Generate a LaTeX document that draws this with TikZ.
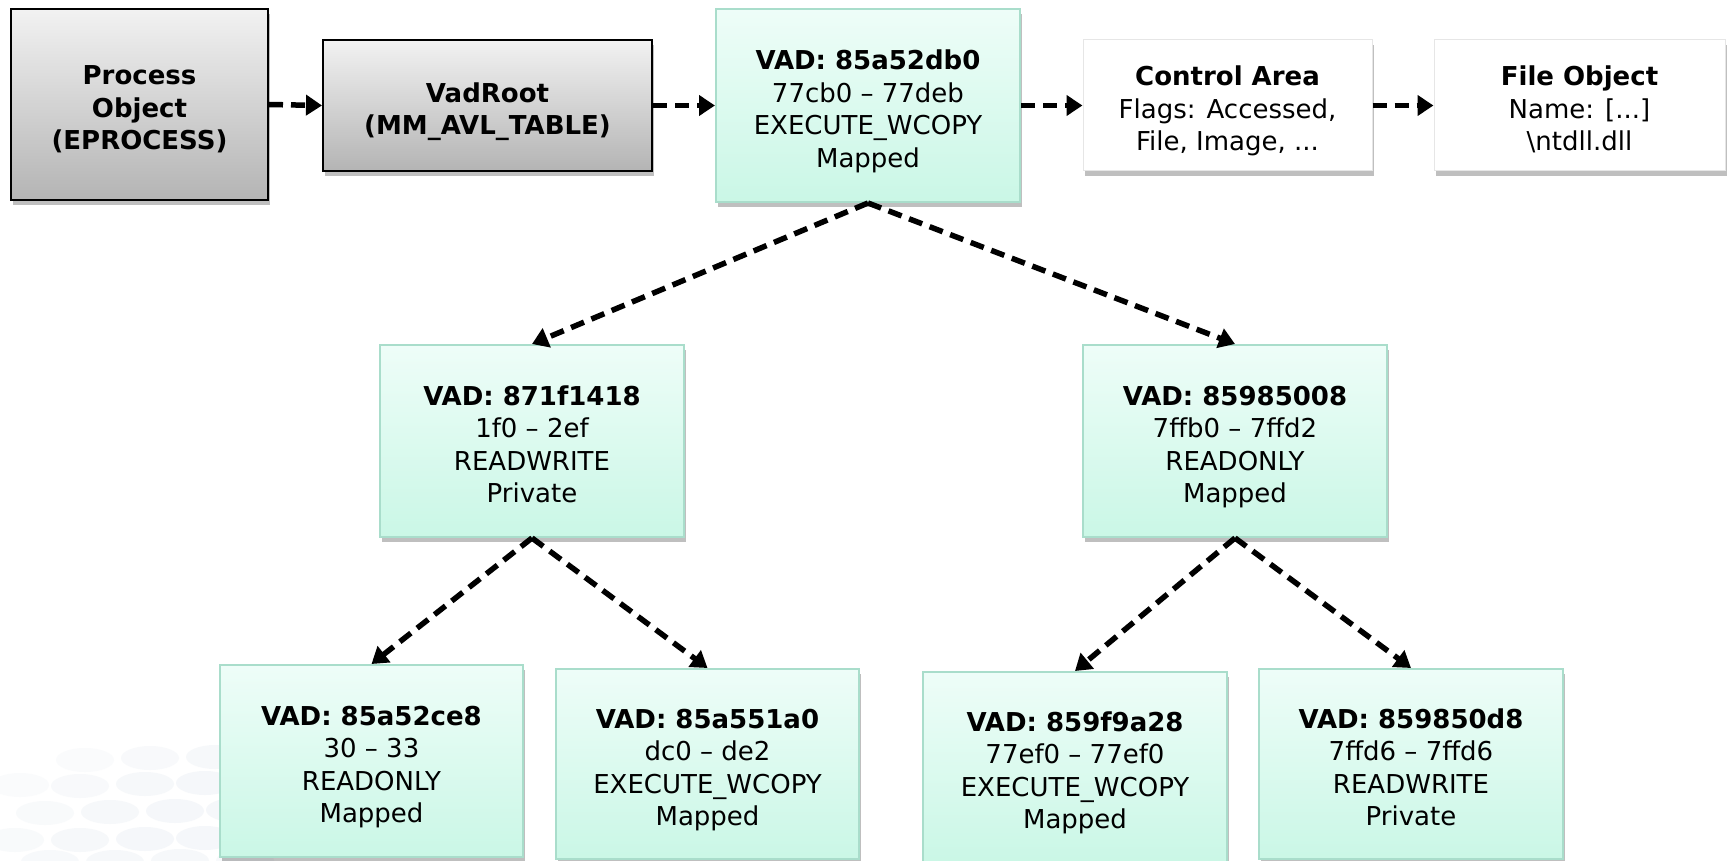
\documentclass[tikz,border=0pt]{standalone}
\usepackage{fontspec}
\setmainfont{DejaVu Sans}
\usetikzlibrary{arrows.meta,shadows}
\definecolor{gtop}{HTML}{F2F2F2}
\definecolor{gbot}{HTML}{B4B4B4}
\definecolor{mtop}{HTML}{EEFDF8}
\definecolor{mbot}{HTML}{CAF7E6}
\definecolor{mline}{HTML}{A9DDCB}
\definecolor{wline}{HTML}{E6E6E6}
\definecolor{bub}{HTML}{E6ECF2}
\newcommand{\boxtxt}[1]{\raisebox{-12.5pt}[0pt][0pt]{\begin{tabular}{@{}c@{}}#1\end{tabular}}}
\tikzset{
  base/.style={inner sep=0pt,
    font=\fontsize{26}{32.5}\selectfont,
    drop shadow={shadow xshift=2pt, shadow yshift=-5pt, opacity=0.25, fill=black}},
  graybox/.style={base, draw=black, line width=2pt, top color=gtop, bottom color=gbot},
  vadbox/.style={base, draw=mline, line width=2pt, top color=mtop, bottom color=mbot},
  whitebox/.style={base, draw=wline, line width=1pt, fill=white},
  conn/.style={line width=5.5pt, dash pattern=on 14pt off 8pt,
    -{Triangle[width=20pt,length=16pt]}},
  bubble/.style={fill=bub}
}
\begin{document}
\begin{tikzpicture}[x=1pt,y=-1pt]
\useasboundingbox (0,0) rectangle (1727,861);
\fill[white] (0,0) rectangle (1727,861);
% faint decorative bubbles
\foreach \cx/\cy/\op in {85/760/0.2, 150/758/0.28, 215/757/0.32,
   20/785/0.18, 80/786/0.28, 145/784/0.35, 205/783/0.38,
   45/813/0.25, 110/812/0.35, 175/811/0.38, 235/810/0.38,
   15/840/0.25, 80/840/0.35, 145/839/0.38, 205/838/0.38, 265/838/0.35,
   50/862/0.3, 115/862/0.35, 180/861/0.35, 245/861/0.3}
  \fill[bubble, opacity=\op] (\cx,\cy) ellipse (29 and 12);

\node[graybox, minimum width=257pt, minimum height=191pt] (po) at (139.5,104.5)
  {\boxtxt{\textbf{Process}\\\textbf{Object}\\\textbf{(EPROCESS)}}};
\node[graybox, minimum width=329pt, minimum height=131pt] (vr) at (487.5,105.5)
  {\boxtxt{\textbf{VadRoot}\\\textbf{(MM\_AVL\_TABLE)}}};
\node[vadbox, minimum width=304pt, minimum height=193pt] (v0) at (868,105.5)
  {\boxtxt{\textbf{VAD: 85a52db0}\\77cb0 – 77deb\\EXECUTE\_WCOPY\\Mapped}};
\node[whitebox, minimum width=289pt, minimum height=131pt] (ca) at (1227.5,105.5)
  {\boxtxt{\textbf{Control Area}\\Flags: Accessed,\\File, Image, ...}};
\node[whitebox, minimum width=291pt, minimum height=131pt] (fo) at (1579.5,105.5)
  {\boxtxt{\textbf{File Object}\\Name: [...]\\\textbackslash ntdll.dll}};

\node[vadbox, minimum width=304pt, minimum height=192pt] (l1) at (532,441)
  {\boxtxt{\textbf{VAD: 871f1418}\\1f0 – 2ef\\READWRITE\\Private}};
\node[vadbox, minimum width=304pt, minimum height=192pt] (r1) at (1235,441)
  {\boxtxt{\textbf{VAD: 85985008}\\7ffb0 – 7ffd2\\READONLY\\Mapped}};

\node[vadbox, minimum width=303pt, minimum height=192pt] (l2a) at (371.5,761)
  {\boxtxt{\textbf{VAD: 85a52ce8}\\30 – 33\\READONLY\\Mapped}};
\node[vadbox, minimum width=303pt, minimum height=190pt] (l2b) at (707.5,764)
  {\boxtxt{\textbf{VAD: 85a551a0}\\dc0 – de2\\EXECUTE\_WCOPY\\Mapped}};
\node[vadbox, minimum width=304pt, minimum height=190pt] (r2a) at (1075,767)
  {\boxtxt{\textbf{VAD: 859f9a28}\\77ef0 – 77ef0\\EXECUTE\_WCOPY\\Mapped}};
\node[vadbox, minimum width=304pt, minimum height=190pt] (r2b) at (1411,764)
  {\boxtxt{\textbf{VAD: 859850d8}\\7ffd6 – 7ffd6\\READWRITE\\Private}};

\draw[conn] (po.east) -- (vr.west);
\draw[conn] (vr.east) -- (v0.west);
\draw[conn] (v0.east) -- (ca.west);
\draw[conn] (ca.east) -- (fo.west);
\draw[conn] (v0.south) -- (l1.north);
\draw[conn] (v0.south) -- (r1.north);
\draw[conn] (l1.south) -- (l2a.north);
\draw[conn] (l1.south) -- (l2b.north);
\draw[conn] (r1.south) -- (r2a.north);
\draw[conn] (r1.south) -- (r2b.north);
\end{tikzpicture}
\end{document}
